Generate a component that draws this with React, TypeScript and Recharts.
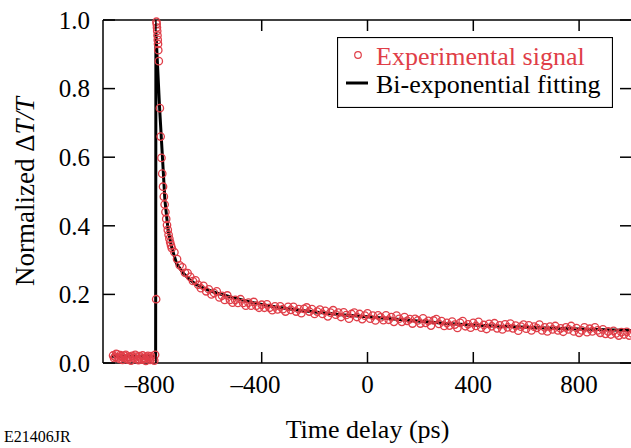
import React from 'react';
import { ComposedChart, Scatter, Line, XAxis, YAxis, ReferenceLine, Legend } from 'recharts';

const RED = '#e03e48';
const FONT = '"Liberation Serif", "Times New Roman", serif';

// chart box and plot frame, page pixels
const W = 660;
const H = 448;
const LEFT = 103;
const TOP = 20;
const RIGHT = 632;
const BOTTOM = 363;

const xTicks = [-800, -400, 0, 400, 800];
const yTicks = [0, 0.2, 0.4, 0.6, 0.8, 1.0];

// experimental signal, [delay ps, normalized dT/T]
const baseline: [number, number][] = [
  [-962, 0.022], [-958, 0.014], [-954, 0.018], [-950, 0.027], [-946, 0.025], [-942, 0.016],
  [-938, 0.012], [-934, 0.023], [-930, 0.020], [-926, 0.009], [-922, 0.015], [-918, 0.021],
  [-914, 0.024], [-910, 0.013], [-906, 0.010], [-902, 0.019], [-898, 0.017], [-894, 0.007],
  [-890, 0.021], [-886, 0.016], [-882, 0.013], [-878, 0.024], [-874, 0.019], [-870, 0.011],
  [-866, 0.008], [-862, 0.020], [-858, 0.016], [-854, 0.010], [-850, 0.022], [-846, 0.015],
  [-842, 0.011], [-838, 0.006], [-834, 0.018], [-830, 0.021], [-826, 0.014], [-822, 0.009],
  [-818, 0.020], [-814, 0.016], [-810, 0.012], [-806, 0.007], [-803, 0.024],
];

const peak: [number, number][] = [
  [-799, 0.186], [-798, 0.995], [-797, 0.988], [-796, 0.978], [-795, 0.968], [-794, 0.955],
  [-793, 0.942], [-792, 0.930], [-791, 0.912], [-789, 0.880], [-785, 0.743], [-782, 0.660],
  [-779, 0.598], [-776, 0.552], [-773, 0.514], [-770, 0.485], [-767, 0.462], [-764, 0.440],
  [-761, 0.420], [-758, 0.402], [-755, 0.388], [-752, 0.374], [-749, 0.362], [-746, 0.352],
  [-743, 0.343], [-740, 0.335],
];

const decay: [number, number][] = [
  [-730, 0.323], [-720, 0.303], [-710, 0.285], [-700, 0.279], [-690, 0.263], [-680, 0.262],
  [-670, 0.251], [-660, 0.239], [-650, 0.241], [-640, 0.228], [-630, 0.218], [-620, 0.225],
  [-610, 0.209], [-600, 0.215], [-590, 0.200], [-580, 0.204], [-570, 0.209], [-560, 0.191],
  [-550, 0.196], [-540, 0.184], [-530, 0.197], [-520, 0.184], [-510, 0.176], [-500, 0.184],
  [-490, 0.175], [-480, 0.186], [-470, 0.175], [-460, 0.167], [-450, 0.176], [-440, 0.167],
  [-430, 0.178], [-420, 0.167], [-410, 0.161], [-400, 0.170], [-390, 0.161], [-380, 0.171],
  [-370, 0.161], [-360, 0.154], [-350, 0.165], [-340, 0.156], [-330, 0.165], [-320, 0.157],
  [-310, 0.150], [-300, 0.164], [-290, 0.155], [-280, 0.164], [-270, 0.150], [-260, 0.157],
  [-250, 0.145], [-240, 0.158], [-230, 0.162], [-220, 0.150], [-210, 0.157], [-200, 0.143],
  [-190, 0.150], [-180, 0.156], [-170, 0.143], [-160, 0.152], [-150, 0.136], [-140, 0.147],
  [-130, 0.154], [-120, 0.141], [-110, 0.147], [-100, 0.134], [-90, 0.148], [-80, 0.140],
  [-70, 0.129], [-60, 0.143], [-50, 0.147], [-40, 0.134], [-30, 0.143], [-20, 0.128],
  [-10, 0.138], [0, 0.145], [10, 0.129], [20, 0.138], [30, 0.124], [40, 0.139],
  [50, 0.133], [60, 0.125], [70, 0.139], [80, 0.126], [90, 0.134], [100, 0.120],
  [110, 0.138], [120, 0.129], [130, 0.120], [140, 0.134], [150, 0.123], [160, 0.128],
  [170, 0.115], [180, 0.129], [190, 0.124], [200, 0.115], [210, 0.130], [220, 0.117],
  [230, 0.123], [240, 0.109], [250, 0.124], [260, 0.128], [270, 0.114], [280, 0.122],
  [290, 0.108], [300, 0.117], [310, 0.109], [320, 0.121], [330, 0.112], [340, 0.102],
  [350, 0.117], [360, 0.122], [370, 0.107], [380, 0.113], [390, 0.103], [400, 0.117],
  [410, 0.108], [420, 0.120], [430, 0.103], [440, 0.111], [450, 0.099], [460, 0.114],
  [470, 0.107], [480, 0.116], [490, 0.101], [500, 0.110], [510, 0.098], [520, 0.113],
  [530, 0.104], [540, 0.115], [550, 0.101], [560, 0.109], [570, 0.094], [580, 0.106],
  [590, 0.112], [600, 0.100], [610, 0.110], [620, 0.095], [630, 0.106], [640, 0.102],
  [650, 0.112], [660, 0.095], [670, 0.104], [680, 0.092], [690, 0.106], [700, 0.098],
  [710, 0.108], [720, 0.095], [730, 0.101], [740, 0.091], [750, 0.104], [760, 0.098],
  [770, 0.108], [780, 0.092], [790, 0.102], [800, 0.088], [810, 0.095], [820, 0.104],
  [830, 0.090], [840, 0.100], [850, 0.092], [860, 0.104], [870, 0.095], [880, 0.088],
  [890, 0.098], [900, 0.085], [910, 0.092], [920, 0.083], [930, 0.094], [940, 0.086],
  [950, 0.080], [960, 0.090], [970, 0.083], [980, 0.091], [990, 0.080], [1000, 0.086],
];

// bi-exponential fit
const fitTimes = [
  -970, -801, -800, -786, -775, -766, -754, -741, -722, -697, -672, -647, -600, -571, -500,
  -445, -400, -350, -300, -256, -200, -150, -100, -50, 0, 100, 200, 300, 400, 500, 600, 700,
  800, 900, 1000,
];
const fitValues = [
  0.02, 0.02, 0.966, 0.743, 0.597, 0.475, 0.388, 0.339, 0.29, 0.262, 0.243, 0.228, 0.212, 0.204,
  0.189, 0.178, 0.171, 0.164, 0.158, 0.154, 0.149, 0.145, 0.141, 0.138, 0.135, 0.128, 0.122,
  0.115, 0.111, 0.107, 0.104, 0.101, 0.099, 0.097, 0.095,
];

const signal = [...baseline, ...peak, ...decay].map(([x, y]) => ({ x, y }));
const fit = fitTimes.map((x, i) => ({ x, y: fitValues[i] }));

function XTick({ x, payload }: any) {
  const v = payload.value;
  const digits = String(Math.abs(v));
  const ty = BOTTOM + 30;
  return (
    <g>
      <line x1={x} x2={x} y1={BOTTOM} y2={BOTTOM - 11} stroke="#000" strokeWidth={1.5} />
      <line x1={x} x2={x} y1={TOP} y2={TOP + 11} stroke="#000" strokeWidth={1.5} />
      <text x={x} y={ty} textAnchor="middle" fontSize={25} fontFamily={FONT} fill="#000">
        {digits}
      </text>
      {v < 0 && (
        <text x={x - digits.length * 6.25} y={ty} textAnchor="end" fontSize={25} fontFamily={FONT} fill="#000">
          {'\u2013'}
        </text>
      )}
    </g>
  );
}

function YTick({ y, payload }: any) {
  return (
    <g>
      <line x1={LEFT} x2={LEFT + 12} y1={y} y2={y} stroke="#000" strokeWidth={1.5} />
      <line x1={RIGHT - 12} x2={RIGHT} y1={y} y2={y} stroke="#000" strokeWidth={1.5} />
      <text x={LEFT - 13} y={y} dy="0.35em" textAnchor="end" fontSize={25} fontFamily={FONT} fill="#000">
        {payload.value.toFixed(1)}
      </text>
    </g>
  );
}

function Ring(props: any) {
  const { cx, cy } = props;
  if (cx == null || cy == null) return null;
  return <circle cx={cx} cy={cy} r={3.7} fill="none" stroke={RED} strokeWidth={1.3} />;
}

function LegendBox() {
  return (
    <svg width={276} height={71} style={{ display: 'block' }}>
      <rect x={0.5} y={0.5} width={275} height={70} fill="#fff" stroke="#000" strokeWidth={1.2} />
      <circle cx={21} cy={18} r={3.3} fill="none" stroke={RED} strokeWidth={1.2} />
      <text x={39} y={28} fontSize={26} fontFamily={FONT} fill={RED}>Experimental signal</text>
      <line x1={9} x2={31} y1={46} y2={46} stroke="#000" strokeWidth={3} />
      <text x={39} y={56} fontSize={26} fontFamily={FONT} fill="#000">Bi-exponential fitting</text>
    </svg>
  );
}

export default function App() {
  return (
    <div style={{ position: 'absolute', left: 0, top: 0, width: 631, height: H, overflow: 'hidden', background: '#fff' }}>
      <ComposedChart width={W} height={H} margin={{ top: TOP, right: W - RIGHT, bottom: 0, left: 0 }}>
        <XAxis
          dataKey="x"
          type="number"
          domain={[-1000, 1000]}
          ticks={xTicks}
          interval={0}
          height={H - BOTTOM}
          tickLine={false}
          axisLine={{ stroke: '#000', strokeWidth: 1.5 }}
          tick={(p: any) => <XTick {...p} />}
          label={() => (
            <text x={(LEFT + RIGHT) / 2} y={438} textAnchor="middle" fontSize={26} fontFamily={FONT} fill="#000">
              Time delay (ps)
            </text>
          )}
        />
        <YAxis
          dataKey="y"
          type="number"
          domain={[0, 1]}
          ticks={yTicks}
          interval={0}
          width={LEFT}
          tickLine={false}
          axisLine={{ stroke: '#000', strokeWidth: 1.5 }}
          tick={(p: any) => <YTick {...p} />}
          label={() => (
            <text transform={`translate(34, ${(TOP + BOTTOM) / 2}) rotate(-90)`} textAnchor="middle" fontSize={27} fontFamily={FONT} fill="#000">
              Normalized Δ<tspan fontStyle="italic">T/T</tspan>
            </text>
          )}
        />
        <ReferenceLine y={1} stroke="#000" strokeWidth={1.5} />
        <ReferenceLine x={1000} stroke="#000" strokeWidth={1.5} />
        <Scatter data={signal} dataKey="y" shape={Ring} isAnimationActive={false} />
        <Line data={fit} dataKey="y" type="linear" stroke="#000" strokeWidth={3} dot={false} isAnimationActive={false} />
        <Legend verticalAlign="middle" content={LegendBox} wrapperStyle={{ left: 337, top: 37, width: 276, height: 71 }} />
      </ComposedChart>
      <div style={{ position: 'absolute', left: 4, top: 429, fontFamily: FONT, fontSize: 16, lineHeight: '16px', color: '#000' }}>
        E21406JR
      </div>
    </div>
  );
}
